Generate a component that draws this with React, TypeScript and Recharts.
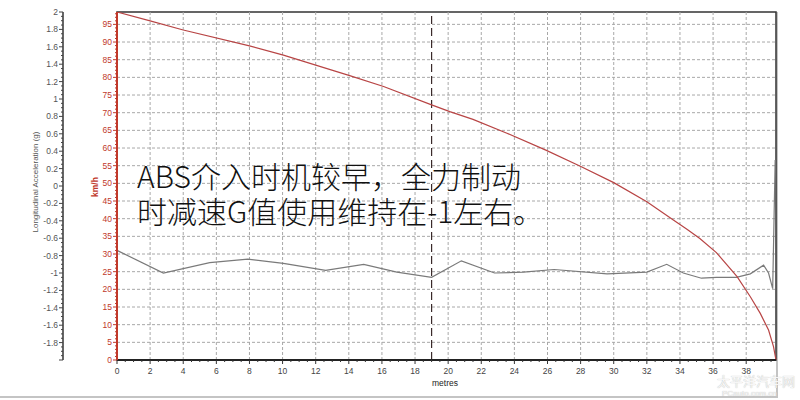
import React from 'react';
import { LineChart, Line, XAxis, YAxis, ReferenceLine, ReferenceArea } from 'recharts';

// ---- data ----
const speedDistance = [0, 2, 4, 8, 10.05, 14.1, 16.1, 19, 20.1, 21.5, 23.55, 25.9, 27.95, 30, 32, 33.6, 34.4, 35.2, 36.2, 37.45, 38.25, 38.85, 39.35, 39.65, 39.8];
const speedKmh = [98.5, 96.0, 93.4, 88.9, 86.3, 80.4, 77.4, 72.2, 70.3, 68.1, 64.2, 59.4, 54.9, 50.2, 44.8, 39.6, 37.1, 34.4, 30.4, 23.6, 17.9, 13.2, 8.5, 3.8, 0];

const accelDistance = [0, 2.8, 5.6, 7.9, 10.05, 12.6, 14.9, 16.9, 19.0, 20.8, 22.8, 24.55, 26.4, 29.6, 32.0, 33.2, 34.2, 35.3, 36.2, 37.4, 38.25, 39.05, 39.35, 39.6, 39.75];
const accelG = [-0.74, -1.0, -0.88, -0.84, -0.89, -0.97, -0.9, -0.99, -1.05, -0.86, -1.0, -0.99, -0.96, -1.01, -0.99, -0.9, -1.0, -1.06, -1.05, -1.05, -1.01, -0.91, -1.0, -1.18, 0.3];

const xTickLabels = [0, 2, 4, 6, 8, 10, 12, 14, 16, 18, 20, 22, 24, 26, 28, 30, 32, 34, 36, 38];
const gTickLabels = [2, 1.8, 1.6, 1.4, 1.2, 1, 0.8, 0.6, 0.4, 0.2, 0, -0.2, -0.4, -0.6, -0.8, -1, -1.2, -1.4, -1.6, -1.8];
const kmhTickLabels = [0, 5, 10, 15, 20, 25, 30, 35, 40, 45, 50, 55, 60, 65, 70, 75, 80, 85, 90, 95];
const xGridValues = [2, 4, 6, 8, 10, 12, 14, 16, 18, 20, 22, 24, 26, 28, 30, 32, 34, 36, 38];
const yGridValues = [5, 10, 15, 20, 25, 30, 35, 40, 45, 50, 55, 60, 65, 70, 75, 80, 85, 90, 95];
const markerDistance = 19;

const X_MAX = 39.8;
const KMH_MAX = 98.5;

const KMH = 'axisA';
const GAX = 'axisB';

const speedData = speedDistance.map((x, i) => ({ x, v: speedKmh[i] }));
const accelData = accelDistance.map((x, i) => ({ x, g: accelG[i] }));

const round = (v: number) => Math.round(v * 1000) / 1000;
const xMinor = Array.from({ length: 80 }, (_, i) => round(i * 0.5));
const gMinor = Array.from({ length: 81 }, (_, i) => round(-2 + i * 0.05));
const kmhMinor = Array.from({ length: 99 }, (_, i) => i);

const isMajor = (list: number[], v: number) => list.some((t) => Math.abs(t - v) < 1e-6);

const TS = 4;
const TM = 1;
const XTM = 3;

const GTick = (props: any) => {
  const { x, y, payload } = props;
  const v = payload.value;
  const major = isMajor(gTickLabels, v) || Math.abs(v + 2) < 1e-6;
  const ax = x + TS + TM;
  return (
    <g>
      <line x1={ax} x2={ax - (major ? 4 : 2)} y1={y} y2={y} stroke="#444" strokeWidth={1} />
      {isMajor(gTickLabels, v) && (
        <text x={x} y={y} dy={3} textAnchor="end" fontSize={8.5} fill="#555" fontFamily="Liberation Sans, Arial, sans-serif">
          {String(v)}
        </text>
      )}
    </g>
  );
};

const KmhTick = (props: any) => {
  const { x, y, payload } = props;
  const v = payload.value;
  const major = isMajor(kmhTickLabels, v);
  const ax = x + TS + TM;
  return (
    <g>
      <line x1={ax} x2={ax - (major ? 4 : 2)} y1={y} y2={y} stroke="#c0392b" strokeWidth={1} />
      {major && (
        <text x={x} y={y} dy={3} textAnchor="end" fontSize={8.5} fill="#c0392b" fontFamily="Liberation Sans, Arial, sans-serif">
          {String(v)}
        </text>
      )}
    </g>
  );
};

const XTick = (props: any) => {
  const { x, y, payload } = props;
  const v = payload.value;
  const major = isMajor(xTickLabels, v);
  const ay = y - TS - XTM;
  return (
    <g>
      <line x1={x} x2={x} y1={ay} y2={ay + (major ? 4 : 2)} stroke="#333" strokeWidth={1} />
      {major && (
        <text x={x} y={y} dy={7} textAnchor="middle" fontSize={8.5} fill="#444" fontFamily="Liberation Sans, Arial, sans-serif">
          {String(v)}
        </text>
      )}
    </g>
  );
};

export default function App() {
  return (
    <div style={{ position: 'absolute', left: 0, top: 0, width: 800, height: 400, background: '#fff', overflow: 'hidden' }}>
      <div style={{ position: 'absolute', left: 0, top: 12, width: 776, height: 384, borderRight: '2px solid #c4c4c4', borderBottom: '2px solid #c4c4c4' }} />
      <div style={{ position: 'absolute', left: 0, top: 0 }}>
        <LineChart width={800} height={400} margin={{ top: 12, right: 24, left: 0, bottom: 0 }}>
          <XAxis
            type="number"
            dataKey="x"
            domain={[0, X_MAX]}
            ticks={xMinor}
            interval={0}
            height={40}
            tick={<XTick />}
            tickLine={false}
            tickSize={TS}
            tickMargin={XTM}
            axisLine={{ stroke: '#222', strokeWidth: 2 }}
          />
          <YAxis
            yAxisId={KMH}
            type="number"
            domain={[0, KMH_MAX]}
            allowDataOverflow
            ticks={kmhMinor}
            interval={0}
            width={54}
            tick={<KmhTick />}
            tickLine={false}
            tickSize={TS}
            tickMargin={TM}
            axisLine={{ stroke: '#c0392b', strokeWidth: 2 }}
          />
          <YAxis
            yAxisId={GAX}
            type="number"
            domain={[-2, 2]}
            allowDataOverflow
            ticks={gMinor}
            interval={0}
            width={63}
            tick={<GTick />}
            tickLine={false}
            tickSize={TS}
            tickMargin={TM}
            axisLine={{ stroke: '#333', strokeWidth: 1.5 }}
          />
          {yGridValues.map((v) => (
            <ReferenceLine key={'gy' + v} y={v} yAxisId={KMH} stroke="#a8a8a8" strokeDasharray="3 2" strokeWidth={1} />
          ))}
          {xGridValues.map((v) => (
            <ReferenceLine key={'gx' + v} x={v} yAxisId={KMH} stroke="#a8a8a8" strokeDasharray="3 2" strokeWidth={1} />
          ))}
          <ReferenceArea x1={0} x2={X_MAX} y1={0} y2={KMH_MAX} yAxisId={KMH} fill="none" stroke="#333" strokeWidth={1.5} />
          <ReferenceLine x={markerDistance} yAxisId={KMH} stroke="#3a2a2a" strokeDasharray="8 4" strokeWidth={1.2} />
          <Line
            yAxisId={GAX}
            data={accelData}
            dataKey="g"
            type="linear"
            stroke="#7a7a7a"
            strokeWidth={1.2}
            dot={false}
            isAnimationActive={false}
          />
          <Line
            yAxisId={KMH}
            data={speedData}
            dataKey="v"
            type="linear"
            stroke="#b84545"
            strokeWidth={1.2}
            dot={false}
            isAnimationActive={false}
          />
        </LineChart>
      </div>
      <div style={{ position: 'absolute', left: 35, top: 182, transform: 'translate(-50%, -50%) rotate(-90deg)', whiteSpace: 'nowrap', fontSize: 8, color: '#555', fontFamily: 'Liberation Sans, Arial, sans-serif' }}>
        Longitudinal Acceleration (g)
      </div>
      <div style={{ position: 'absolute', left: 95, top: 187, transform: 'translate(-50%, -50%) rotate(-90deg)', whiteSpace: 'nowrap', fontSize: 8.5, fontWeight: 'bold', color: '#c0392b', fontFamily: 'Liberation Sans, Arial, sans-serif' }}>
        km/h
      </div>
      <div style={{ position: 'absolute', left: 445, top: 383, transform: 'translate(-50%, -50%)', whiteSpace: 'nowrap', fontSize: 8.5, color: '#222', fontFamily: 'Liberation Sans, Arial, sans-serif' }}>
        metres
      </div>
      <div style={{ position: 'absolute', left: 137, top: 158, fontSize: 30, lineHeight: '35px', fontWeight: 300, color: '#111', whiteSpace: 'nowrap', fontFamily: '"Noto Sans CJK SC", sans-serif' }}>
        <div>ABS介入时机较早，全力制动</div>
        <div>时减速G值使用维持在-1左右。</div>
      </div>
      <div style={{ position: 'absolute', left: 717, top: 373, fontSize: 13, color: '#f6f6f6', textShadow: '0 0 1px #aaa', whiteSpace: 'nowrap', fontFamily: '"Noto Sans CJK SC", sans-serif', lineHeight: '15px' }}>
        太平洋汽车网
      </div>
      <div style={{ position: 'absolute', left: 722, top: 389, fontSize: 8, color: '#f6f6f6', textShadow: '0 0 1px #aaa', whiteSpace: 'nowrap', fontFamily: 'Liberation Sans, Arial, sans-serif', lineHeight: '9px' }}>
        PCauto.com.cn
      </div>
    </div>
  );
}
